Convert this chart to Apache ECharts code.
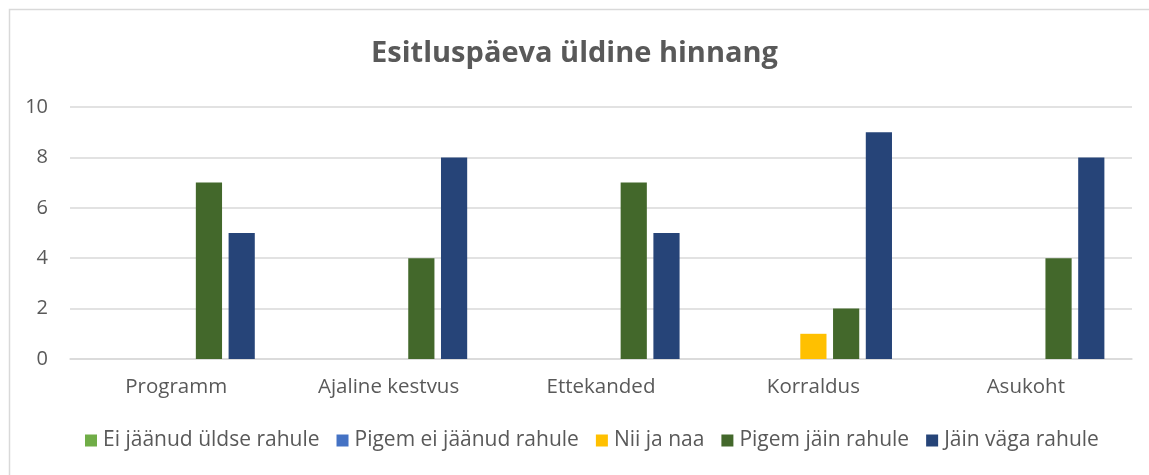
<!DOCTYPE html>
<html>
<head>
<meta charset="utf-8">
<script src="https://cdn.jsdelivr.net/npm/echarts@6/dist/echarts.min.js"></script>
<style>
  html, body { margin: 0; padding: 0; background: #fff; }
  #chart { width: 1149px; height: 475px; }
</style>
</head>
<body>
<div id="chart"></div>
<script>
// Esitluspäeva üldine hinnang
var categories = ['Programm', 'Ajaline kestvus', 'Ettekanded', 'Korraldus', 'Asukoht'];
var seriesNames = ['Ei jäänud üldse rahule', 'Pigem ei jäänud rahule', 'Nii ja naa', 'Pigem jäin rahule', 'Jäin väga rahule'];
var eiJaanud = [0, 0, 0, 0, 0];
var pigemEi = [0, 0, 0, 0, 0];
var niiJaNaa = [0, 0, 0, 1, 0];
var pigemJain = [7, 4, 7, 2, 4];
var vagaRahule = [5, 8, 5, 9, 8];
var colors = ['#70AD47', '#4472C4', '#FFC000', '#43682B', '#264478'];

var myChart = echarts.init(document.getElementById('chart'));
var font = '"Open Sans", "Noto Sans", sans-serif';

function bar(name, data) {
    return {
        name: name,
        type: 'bar',
        data: data,
        barGap: '25%',
        barCategoryGap: '26%'
    };
}

var option = {
    backgroundColor: '#fff',
    color: colors,
    animation: false,
    textStyle: { fontFamily: font },
    graphic: [{
        type: 'rect',
        left: 7, top: 7,
        shape: { width: 1200, height: 500 },
        style: { fill: 'none', stroke: '#d9d9d9', lineWidth: 1.5 },
        silent: true
    }],
    title: {
        text: 'Esitluspäeva üldine hinnang',
        left: 'center',
        top: 34,
        textStyle: { fontFamily: font, fontSize: 29, fontWeight: 'bold', color: '#595959' }
    },
    legend: {
        bottom: 19,
        left: 80,
        itemWidth: 12,
        itemHeight: 12,
        itemGap: 17,
        icon: 'rect',
        textStyle: { fontFamily: font, fontSize: 21, color: '#595959', padding: [0, 0, 0, 1] },
        data: seriesNames
    },
    grid: { left: 70, right: 17, top: 107, bottom: 116, containLabel: false },
    xAxis: {
        type: 'category',
        data: categories,
        axisLine: { lineStyle: { color: '#d9d9d9', width: 1.5 } },
        axisTick: { show: false },
        axisLabel: { fontFamily: font, fontSize: 20.5, color: '#595959', margin: 18 }
    },
    yAxis: {
        type: 'value',
        min: 0,
        max: 10,
        interval: 2,
        axisLine: { show: false },
        axisTick: { show: false },
        splitLine: { lineStyle: { color: '#d9d9d9', width: 1.5 } },
        axisLabel: { fontFamily: font, fontSize: 20, color: '#595959', margin: 22 }
    },
    series: [
        bar(seriesNames[0], eiJaanud),
        bar(seriesNames[1], pigemEi),
        bar(seriesNames[2], niiJaNaa),
        bar(seriesNames[3], pigemJain),
        bar(seriesNames[4], vagaRahule)
    ]
};

myChart.setOption(option);
</script>
</body>
</html>
